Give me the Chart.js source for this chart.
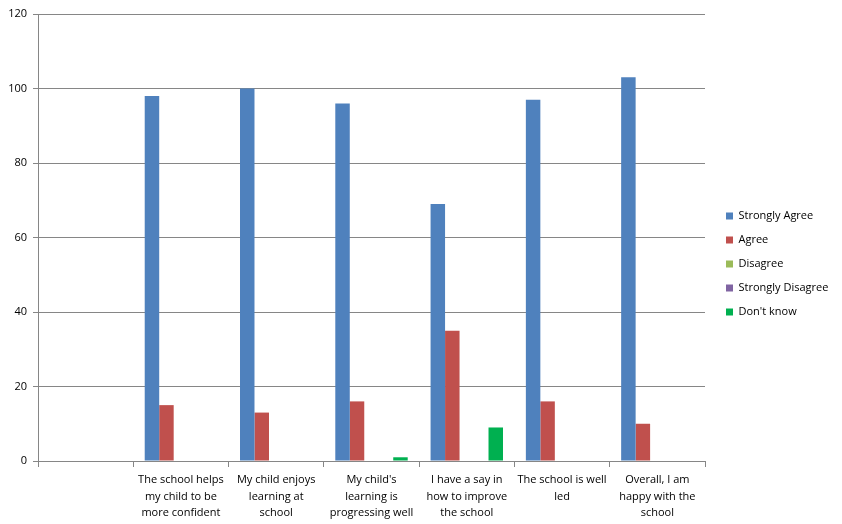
<!DOCTYPE html>
<html>
<head>
<meta charset="utf-8">
<script src="https://cdn.jsdelivr.net/npm/chart.js@4/dist/chart.umd.min.js"></script>
<style>
  html, body { margin: 0; padding: 0; background: #fff; }
  #wrap { width: 842px; height: 524px; }
</style>
</head>
<body>
<div id="wrap"><canvas id="chart" width="842" height="524"></canvas></div>
<script>
// Daten (erste Kategorie ist leer)
const categories = [
  "",
  ["The school helps", "my child to be", "more confident"],
  ["My child enjoys", "learning at", "school"],
  ["My child's", "learning is", "progressing well"],
  ["I have a say in", "how to improve", "the school"],
  ["The school is well", "led"],
  ["Overall, I am", "happy with the", "school"]
];
const stronglyAgree    = [null, 98, 100, 96, 69, 97, 103];
const agree            = [null, 15, 13, 16, 35, 16, 10];
const disagree         = [null, 0, 0, 0, 0, 0, 0];
const stronglyDisagree = [null, 0, 0, 0, 0, 0, 0];
const dontKnow         = [null, 0, 0, 1, 9, 0, 0];
const yTicks = { min: 0, max: 120, step: 20 };

const FONT = "'Open Sans', 'Liberation Sans', sans-serif";
const GRID = "#868686";

// Legende: feste Breite, leicht nach rechts/oben versetzt
const legendBox = {
  id: "legendBox",
  afterInit(chart) {
    const legend = chart.legend;
    const origFit = legend.fit;
    legend.fit = function () {
      origFit.call(this);
      this.width = 137;
    };
  },
  afterLayout(chart) {
    const lg = chart.legend;
    lg.left += 8;
    lg.right += 8;
    lg.top -= 5;
    lg.bottom -= 5;
  }
};

const ctx = document.getElementById("chart").getContext("2d");
new Chart(ctx, {
  type: "bar",
  data: {
    labels: categories,
    datasets: [
      { label: "Strongly Agree", data: stronglyAgree, backgroundColor: "#4F81BD" },
      { label: "Agree", data: agree, backgroundColor: "#C0504D" },
      { label: "Disagree", data: disagree, backgroundColor: "#9BBB59" },
      { label: "Strongly Disagree", data: stronglyDisagree, backgroundColor: "#8064A2" },
      { label: "Don't know", data: dontKnow, backgroundColor: "#00B050" }
    ]
  },
  options: {
    responsive: false,
    animation: false,
    layout: { padding: { top: 14, left: 0, right: 0, bottom: 0 } },
    datasets: {
      bar: { categoryPercentage: 0.76, barPercentage: 1.0, borderWidth: 0 }
    },
    plugins: {
      legend: {
        position: "right",
        align: "center",
        labels: {
          boxWidth: 7,
          boxHeight: 7,
          padding: 13,
          color: "#000",
          font: { family: FONT, size: 11 }
        }
      },
      tooltip: { enabled: false }
    },
    scales: {
      x: {
        offset: true,
        afterFit: (scale) => { scale.height = 63; },
        grid: {
          offset: true,
          drawOnChartArea: false,
          drawTicks: true,
          tickLength: 6,
          color: GRID
        },
        border: { display: true, color: GRID },
        ticks: {
          autoSkip: false,
          maxRotation: 0,
          minRotation: 0,
          padding: 5,
          color: "#000",
          font: { family: FONT, size: 11, lineHeight: 1.5 }
        }
      },
      y: {
        min: yTicks.min,
        max: yTicks.max,
        afterFit: (scale) => { scale.width = 38; },
        ticks: {
          stepSize: yTicks.step,
          padding: 6,
          color: "#000",
          font: { family: FONT, size: 11 }
        },
        grid: {
          color: GRID,
          drawTicks: true,
          tickLength: 5
        },
        border: { display: true, color: GRID }
      }
    }
  },
  plugins: [legendBox]
});
</script>
</body>
</html>
